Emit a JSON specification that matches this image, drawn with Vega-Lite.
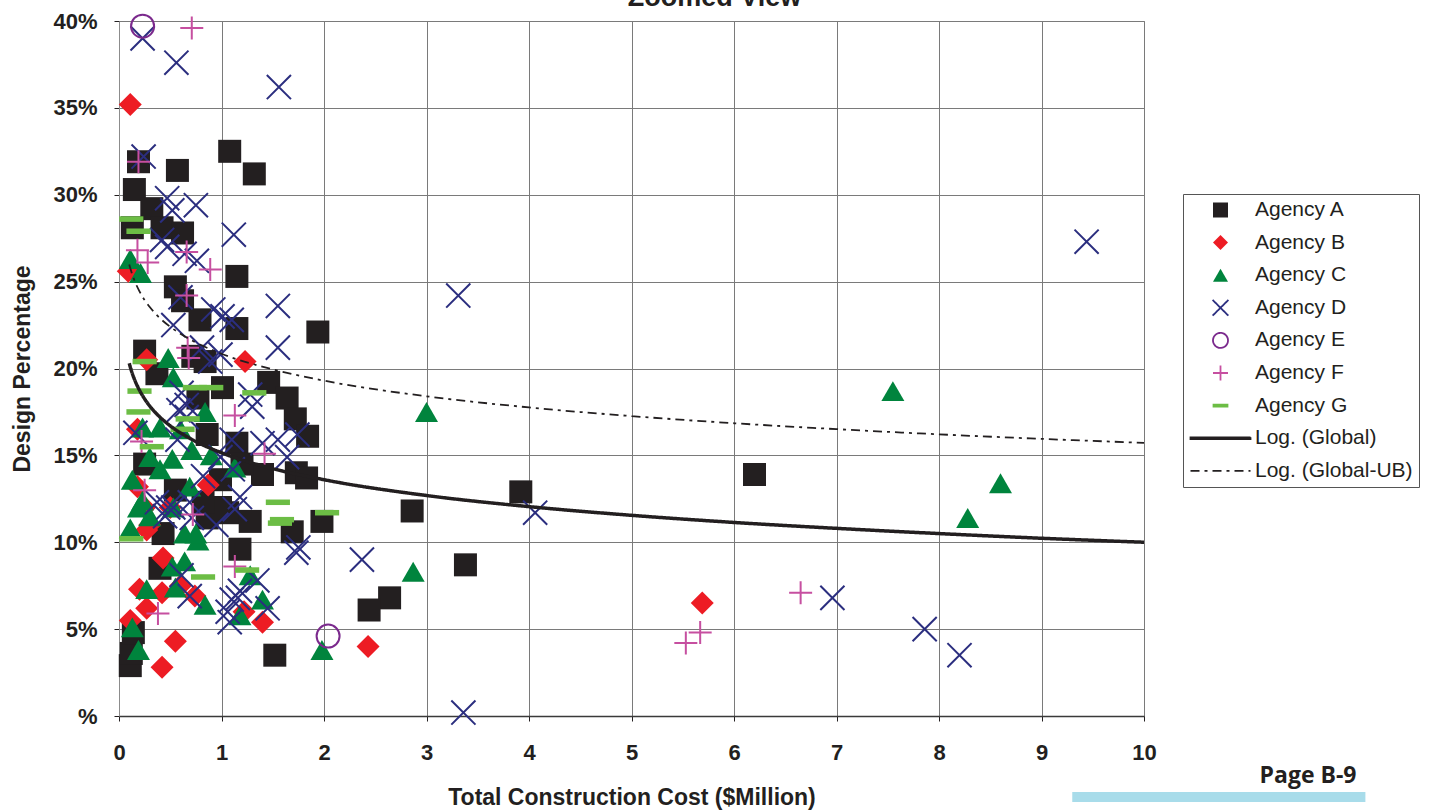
{
  "$schema": "https://vega.github.io/schema/vega-lite/v6.json",
  "autosize": {"type": "none"},
  "width": 1025,
  "height": 695,
  "padding": {"left": 119, "top": 21, "right": 285, "bottom": 94},
  "background": "white",
  "title": {"text": "Zoomed View", "font": "Liberation Sans", "fontSize": 27, "fontWeight": "bold", "color": "#231f20", "anchor": "middle", "dx": 83, "offset": -2},
  "config": {
    "view": {"stroke": "#8c8c8c", "strokeWidth": 1},
    "axis": {
      "labelFont": "Liberation Sans", "labelFontWeight": "bold", "labelFontSize": 22, "labelColor": "#231f20",
      "titleFont": "Liberation Sans", "titleFontWeight": "bold", "titleFontSize": 23, "titleColor": "#231f20",
      "tickSize": 5, "tickColor": "#231f20", "gridColor": "#7a7a7a", "gridWidth": 1, "labelFlush": false, "labelOverlap": false
    }
  },
  "datasets": {
    "points": [
      {"series": "Agency A", "cost": 0.11, "pct": 2.9}, {"series": "Agency A", "cost": 0.12, "pct": 3.6}, {"series": "Agency A", "cost": 0.14, "pct": 4.8},
      {"series": "Agency A", "cost": 0.19, "pct": 31.9}, {"series": "Agency A", "cost": 0.57, "pct": 31.4}, {"series": "Agency A", "cost": 0.15, "pct": 30.3},
      {"series": "Agency A", "cost": 0.32, "pct": 29.2}, {"series": "Agency A", "cost": 0.13, "pct": 28.1}, {"series": "Agency A", "cost": 0.42, "pct": 28.1},
      {"series": "Agency A", "cost": 0.62, "pct": 27.8}, {"series": "Agency A", "cost": 1.08, "pct": 32.5}, {"series": "Agency A", "cost": 1.32, "pct": 31.2},
      {"series": "Agency A", "cost": 1.15, "pct": 25.3}, {"series": "Agency A", "cost": 0.55, "pct": 24.7}, {"series": "Agency A", "cost": 0.62, "pct": 23.9},
      {"series": "Agency A", "cost": 0.79, "pct": 22.8}, {"series": "Agency A", "cost": 1.15, "pct": 22.3}, {"series": "Agency A", "cost": 1.94, "pct": 22.1},
      {"series": "Agency A", "cost": 0.25, "pct": 21.0}, {"series": "Agency A", "cost": 0.37, "pct": 19.7}, {"series": "Agency A", "cost": 0.72, "pct": 20.7},
      {"series": "Agency A", "cost": 0.84, "pct": 20.4}, {"series": "Agency A", "cost": 1.01, "pct": 18.9}, {"series": "Agency A", "cost": 1.46, "pct": 19.2},
      {"series": "Agency A", "cost": 1.64, "pct": 18.3}, {"series": "Agency A", "cost": 1.72, "pct": 17.1}, {"series": "Agency A", "cost": 1.84, "pct": 16.1},
      {"series": "Agency A", "cost": 1.73, "pct": 14.0}, {"series": "Agency A", "cost": 1.83, "pct": 13.7}, {"series": "Agency A", "cost": 1.40, "pct": 13.9},
      {"series": "Agency A", "cost": 1.15, "pct": 15.7}, {"series": "Agency A", "cost": 1.06, "pct": 11.7}, {"series": "Agency A", "cost": 1.28, "pct": 11.2},
      {"series": "Agency A", "cost": 1.69, "pct": 10.6}, {"series": "Agency A", "cost": 1.98, "pct": 11.2}, {"series": "Agency A", "cost": 1.18, "pct": 9.6},
      {"series": "Agency A", "cost": 1.52, "pct": 3.5}, {"series": "Agency A", "cost": 0.40, "pct": 8.5}, {"series": "Agency A", "cost": 0.43, "pct": 10.5},
      {"series": "Agency A", "cost": 0.86, "pct": 11.4}, {"series": "Agency A", "cost": 0.99, "pct": 12.0}, {"series": "Agency A", "cost": 0.25, "pct": 14.5},
      {"series": "Agency A", "cost": 0.77, "pct": 18.3}, {"series": "Agency A", "cost": 0.86, "pct": 16.2}, {"series": "Agency A", "cost": 0.99, "pct": 13.6},
      {"series": "Agency A", "cost": 0.82, "pct": 12.3}, {"series": "Agency A", "cost": 0.55, "pct": 13.0}, {"series": "Agency A", "cost": 1.2, "pct": 14.5},
      {"series": "Agency A", "cost": 3.92, "pct": 12.9}, {"series": "Agency A", "cost": 2.86, "pct": 11.8}, {"series": "Agency A", "cost": 3.38, "pct": 8.7},
      {"series": "Agency A", "cost": 2.64, "pct": 6.8}, {"series": "Agency A", "cost": 2.44, "pct": 6.1}, {"series": "Agency A", "cost": 6.2, "pct": 13.9},

      {"series": "Agency B", "cost": 0.11, "pct": 35.2}, {"series": "Agency B", "cost": 1.23, "pct": 20.4}, {"series": "Agency B", "cost": 0.09, "pct": 25.6},
      {"series": "Agency B", "cost": 0.27, "pct": 20.5}, {"series": "Agency B", "cost": 0.18, "pct": 16.5}, {"series": "Agency B", "cost": 0.87, "pct": 13.3},
      {"series": "Agency B", "cost": 0.18, "pct": 13.2}, {"series": "Agency B", "cost": 0.27, "pct": 10.7}, {"series": "Agency B", "cost": 0.43, "pct": 9.1},
      {"series": "Agency B", "cost": 0.2, "pct": 7.3}, {"series": "Agency B", "cost": 0.42, "pct": 7.1}, {"series": "Agency B", "cost": 0.27, "pct": 6.2},
      {"series": "Agency B", "cost": 0.11, "pct": 5.5}, {"series": "Agency B", "cost": 0.55, "pct": 4.3}, {"series": "Agency B", "cost": 0.42, "pct": 2.8},
      {"series": "Agency B", "cost": 0.74, "pct": 6.9}, {"series": "Agency B", "cost": 1.40, "pct": 5.4}, {"series": "Agency B", "cost": 2.43, "pct": 4.0},
      {"series": "Agency B", "cost": 5.69, "pct": 6.5}, {"series": "Agency B", "cost": 0.25, "pct": 12.0}, {"series": "Agency B", "cost": 0.5, "pct": 12.0},
      {"series": "Agency B", "cost": 0.3, "pct": 11.0}, {"series": "Agency B", "cost": 0.6, "pct": 7.5}, {"series": "Agency B", "cost": 1.22, "pct": 6.0},

      {"series": "Agency C", "cost": 0.11, "pct": 26.3}, {"series": "Agency C", "cost": 0.21, "pct": 25.5}, {"series": "Agency C", "cost": 0.48, "pct": 20.6},
      {"series": "Agency C", "cost": 3.0, "pct": 17.5}, {"series": "Agency C", "cost": 7.55, "pct": 18.7}, {"series": "Agency C", "cost": 8.6, "pct": 13.4},
      {"series": "Agency C", "cost": 8.28, "pct": 11.4}, {"series": "Agency C", "cost": 2.87, "pct": 8.3}, {"series": "Agency C", "cost": 1.98, "pct": 3.8},
      {"series": "Agency C", "cost": 0.53, "pct": 19.5}, {"series": "Agency C", "cost": 0.84, "pct": 17.5}, {"series": "Agency C", "cost": 0.23, "pct": 16.6},
      {"series": "Agency C", "cost": 0.4, "pct": 16.6}, {"series": "Agency C", "cost": 0.3, "pct": 14.9}, {"series": "Agency C", "cost": 0.52, "pct": 14.8},
      {"series": "Agency C", "cost": 0.71, "pct": 15.3}, {"series": "Agency C", "cost": 0.13, "pct": 13.6}, {"series": "Agency C", "cost": 0.4, "pct": 14.2},
      {"series": "Agency C", "cost": 0.23, "pct": 12.4}, {"series": "Agency C", "cost": 0.69, "pct": 13.2}, {"series": "Agency C", "cost": 0.53, "pct": 12.0},
      {"series": "Agency C", "cost": 0.19, "pct": 12.0}, {"series": "Agency C", "cost": 0.11, "pct": 10.8}, {"series": "Agency C", "cost": 0.3, "pct": 11.5},
      {"series": "Agency C", "cost": 0.64, "pct": 10.5}, {"series": "Agency C", "cost": 0.77, "pct": 10.1}, {"series": "Agency C", "cost": 0.52, "pct": 8.6},
      {"series": "Agency C", "cost": 0.64, "pct": 8.9}, {"series": "Agency C", "cost": 0.27, "pct": 7.3}, {"series": "Agency C", "cost": 0.55, "pct": 7.4},
      {"series": "Agency C", "cost": 0.84, "pct": 6.4}, {"series": "Agency C", "cost": 0.13, "pct": 5.1}, {"series": "Agency C", "cost": 0.19, "pct": 3.8},
      {"series": "Agency C", "cost": 1.28, "pct": 8.1}, {"series": "Agency C", "cost": 1.4, "pct": 6.7}, {"series": "Agency C", "cost": 1.18, "pct": 5.8},
      {"series": "Agency C", "cost": 1.13, "pct": 14.3}, {"series": "Agency C", "cost": 0.75, "pct": 10.5}, {"series": "Agency C", "cost": 0.9, "pct": 15.0},
      {"series": "Agency C", "cost": 0.6, "pct": 16.5},

      {"series": "Agency D", "cost": 0.23, "pct": 39.0}, {"series": "Agency D", "cost": 0.56, "pct": 37.6}, {"series": "Agency D", "cost": 1.56, "pct": 36.2},
      {"series": "Agency D", "cost": 3.31, "pct": 24.2}, {"series": "Agency D", "cost": 9.44, "pct": 27.3}, {"series": "Agency D", "cost": 0.24, "pct": 32.2},
      {"series": "Agency D", "cost": 2.37, "pct": 9.0}, {"series": "Agency D", "cost": 3.36, "pct": 0.2}, {"series": "Agency D", "cost": 4.06, "pct": 11.7},
      {"series": "Agency D", "cost": 6.96, "pct": 6.8}, {"series": "Agency D", "cost": 7.86, "pct": 5.0}, {"series": "Agency D", "cost": 8.2, "pct": 3.5},
      {"series": "Agency D", "cost": 1.55, "pct": 23.6}, {"series": "Agency D", "cost": 1.55, "pct": 21.2}, {"series": "Agency D", "cost": 1.12, "pct": 27.7},
      {"series": "Agency D", "cost": 0.75, "pct": 29.4}, {"series": "Agency D", "cost": 0.47, "pct": 29.8}, {"series": "Agency D", "cost": 0.52, "pct": 29.1},
      {"series": "Agency D", "cost": 0.42, "pct": 27.4}, {"series": "Agency D", "cost": 0.47, "pct": 27.0}, {"series": "Agency D", "cost": 0.64, "pct": 26.6},
      {"series": "Agency D", "cost": 0.76, "pct": 26.2}, {"series": "Agency D", "cost": 0.6, "pct": 24.1}, {"series": "Agency D", "cost": 0.53, "pct": 22.5},
      {"series": "Agency D", "cost": 0.92, "pct": 23.4}, {"series": "Agency D", "cost": 1.01, "pct": 23.0}, {"series": "Agency D", "cost": 1.1, "pct": 22.8},
      {"series": "Agency D", "cost": 1.28, "pct": 18.5}, {"series": "Agency D", "cost": 1.3, "pct": 17.8}, {"series": "Agency D", "cost": 1.55, "pct": 15.9},
      {"series": "Agency D", "cost": 1.40, "pct": 15.7}, {"series": "Agency D", "cost": 1.74, "pct": 16.2}, {"series": "Agency D", "cost": 1.64, "pct": 14.9},
      {"series": "Agency D", "cost": 1.1, "pct": 15.9}, {"series": "Agency D", "cost": 1.18, "pct": 12.6}, {"series": "Agency D", "cost": 1.75, "pct": 9.7},
      {"series": "Agency D", "cost": 1.73, "pct": 9.4}, {"series": "Agency D", "cost": 1.35, "pct": 7.8}, {"series": "Agency D", "cost": 1.18, "pct": 7.2},
      {"series": "Agency D", "cost": 1.16, "pct": 6.8}, {"series": "Agency D", "cost": 1.45, "pct": 6.2}, {"series": "Agency D", "cost": 1.08, "pct": 5.4},
      {"series": "Agency D", "cost": 1.13, "pct": 11.9}, {"series": "Agency D", "cost": 0.37, "pct": 12.3}, {"series": "Agency D", "cost": 0.53, "pct": 12.0},
      {"series": "Agency D", "cost": 0.71, "pct": 11.4}, {"series": "Agency D", "cost": 0.61, "pct": 8.1}, {"series": "Agency D", "cost": 0.69, "pct": 6.9},
      {"series": "Agency D", "cost": 1.06, "pct": 6.0}, {"series": "Agency D", "cost": 1.1, "pct": 6.7}, {"series": "Agency D", "cost": 0.61, "pct": 18.6},
      {"series": "Agency D", "cost": 0.58, "pct": 17.6}, {"series": "Agency D", "cost": 0.66, "pct": 17.9}, {"series": "Agency D", "cost": 0.16, "pct": 16.3},
      {"series": "Agency D", "cost": 0.57, "pct": 15.9}, {"series": "Agency D", "cost": 0.66, "pct": 17.2}, {"series": "Agency D", "cost": 0.81, "pct": 21.2},
      {"series": "Agency D", "cost": 0.89, "pct": 20.4}, {"series": "Agency D", "cost": 0.99, "pct": 20.8}, {"series": "Agency D", "cost": 0.99, "pct": 14.9},
      {"series": "Agency D", "cost": 0.82, "pct": 13.8}, {"series": "Agency D", "cost": 0.48, "pct": 12.0}, {"series": "Agency D", "cost": 0.69, "pct": 12.3},
      {"series": "Agency D", "cost": 1.11, "pct": 14.2}, {"series": "Agency D", "cost": 0.45, "pct": 11.5}, {"series": "Agency D", "cost": 0.95, "pct": 11.0},

      {"series": "Agency E", "cost": 0.23, "pct": 39.7}, {"series": "Agency E", "cost": 2.04, "pct": 4.6},

      {"series": "Agency F", "cost": 0.71, "pct": 39.6}, {"series": "Agency F", "cost": 0.19, "pct": 31.9}, {"series": "Agency F", "cost": 0.18, "pct": 26.8},
      {"series": "Agency F", "cost": 0.28, "pct": 26.1}, {"series": "Agency F", "cost": 0.66, "pct": 26.7}, {"series": "Agency F", "cost": 0.89, "pct": 25.7},
      {"series": "Agency F", "cost": 0.66, "pct": 24.2}, {"series": "Agency F", "cost": 0.67, "pct": 21.2}, {"series": "Agency F", "cost": 0.68, "pct": 20.6},
      {"series": "Agency F", "cost": 0.22, "pct": 15.8}, {"series": "Agency F", "cost": 0.25, "pct": 13.0}, {"series": "Agency F", "cost": 0.72, "pct": 11.6},
      {"series": "Agency F", "cost": 1.13, "pct": 17.3}, {"series": "Agency F", "cost": 1.42, "pct": 15.1}, {"series": "Agency F", "cost": 1.13, "pct": 8.6},
      {"series": "Agency F", "cost": 0.38, "pct": 5.9}, {"series": "Agency F", "cost": 6.65, "pct": 7.1}, {"series": "Agency F", "cost": 5.67, "pct": 4.8},
      {"series": "Agency F", "cost": 5.53, "pct": 4.2},

      {"series": "Agency G", "cost": 0.12, "pct": 28.6}, {"series": "Agency G", "cost": 0.19, "pct": 27.9}, {"series": "Agency G", "cost": 0.25, "pct": 20.4},
      {"series": "Agency G", "cost": 0.2, "pct": 18.7}, {"series": "Agency G", "cost": 0.19, "pct": 17.5}, {"series": "Agency G", "cost": 0.74, "pct": 18.9},
      {"series": "Agency G", "cost": 0.67, "pct": 17.1}, {"series": "Agency G", "cost": 0.62, "pct": 16.5}, {"series": "Agency G", "cost": 0.32, "pct": 15.5},
      {"series": "Agency G", "cost": 0.12, "pct": 10.2}, {"series": "Agency G", "cost": 0.82, "pct": 8.0}, {"series": "Agency G", "cost": 1.32, "pct": 18.6},
      {"series": "Agency G", "cost": 1.55, "pct": 12.3}, {"series": "Agency G", "cost": 1.59, "pct": 11.3}, {"series": "Agency G", "cost": 1.57, "pct": 11.1},
      {"series": "Agency G", "cost": 2.03, "pct": 11.7}, {"series": "Agency G", "cost": 1.25, "pct": 8.4}, {"series": "Agency G", "cost": 0.9, "pct": 18.9}
    ],
    "trend": [
      {"series": "Log. (Global)", "cost": 0.1, "pct": 20.30}, {"series": "Log. (Global)", "cost": 0.12, "pct": 19.89},
      {"series": "Log. (Global)", "cost": 0.15, "pct": 19.39}, {"series": "Log. (Global)", "cost": 0.2, "pct": 18.75},
      {"series": "Log. (Global)", "cost": 0.25, "pct": 18.25}, {"series": "Log. (Global)", "cost": 0.3, "pct": 17.84},
      {"series": "Log. (Global)", "cost": 0.4, "pct": 17.20}, {"series": "Log. (Global)", "cost": 0.5, "pct": 16.70},
      {"series": "Log. (Global)", "cost": 0.7, "pct": 15.95}, {"series": "Log. (Global)", "cost": 1, "pct": 15.15},
      {"series": "Log. (Global)", "cost": 1.5, "pct": 14.24}, {"series": "Log. (Global)", "cost": 2, "pct": 13.60},
      {"series": "Log. (Global)", "cost": 3, "pct": 12.69}, {"series": "Log. (Global)", "cost": 4, "pct": 12.05},
      {"series": "Log. (Global)", "cost": 5, "pct": 11.55}, {"series": "Log. (Global)", "cost": 6, "pct": 11.14},
      {"series": "Log. (Global)", "cost": 7, "pct": 10.80}, {"series": "Log. (Global)", "cost": 8, "pct": 10.50},
      {"series": "Log. (Global)", "cost": 9, "pct": 10.23}, {"series": "Log. (Global)", "cost": 10, "pct": 10.00},
      {"series": "Log. (Global-UB)", "cost": 0.1, "pct": 25.99}, {"series": "Log. (Global-UB)", "cost": 0.12, "pct": 25.58},
      {"series": "Log. (Global-UB)", "cost": 0.15, "pct": 25.08}, {"series": "Log. (Global-UB)", "cost": 0.2, "pct": 24.44},
      {"series": "Log. (Global-UB)", "cost": 0.25, "pct": 23.94}, {"series": "Log. (Global-UB)", "cost": 0.3, "pct": 23.54},
      {"series": "Log. (Global-UB)", "cost": 0.4, "pct": 22.89}, {"series": "Log. (Global-UB)", "cost": 0.5, "pct": 22.40},
      {"series": "Log. (Global-UB)", "cost": 0.7, "pct": 21.65}, {"series": "Log. (Global-UB)", "cost": 1, "pct": 20.85},
      {"series": "Log. (Global-UB)", "cost": 1.5, "pct": 19.95}, {"series": "Log. (Global-UB)", "cost": 2, "pct": 19.30},
      {"series": "Log. (Global-UB)", "cost": 3, "pct": 18.40}, {"series": "Log. (Global-UB)", "cost": 4, "pct": 17.76},
      {"series": "Log. (Global-UB)", "cost": 5, "pct": 17.26}, {"series": "Log. (Global-UB)", "cost": 6, "pct": 16.85},
      {"series": "Log. (Global-UB)", "cost": 7, "pct": 16.51}, {"series": "Log. (Global-UB)", "cost": 8, "pct": 16.21},
      {"series": "Log. (Global-UB)", "cost": 9, "pct": 15.95}, {"series": "Log. (Global-UB)", "cost": 10, "pct": 15.72}
    ]
  },
  "layer": [
    {
      "data": {"name": "points"},
      "mark": {"type": "point", "size": 529, "strokeWidth": 2, "opacity": 1, "clip": false},
      "encoding": {
        "x": {"field": "cost", "type": "quantitative",
          "scale": {"domain": [0, 10], "nice": false, "zero": false},
          "axis": {"values": [0,1,2,3,4,5,6,7,8,9,10], "format": "d", "title": "Total Construction Cost ($Million)", "labelPadding": 21, "titlePadding": 23, "domainColor": "#3a3a3a", "domainWidth": 1.5}},
        "y": {"field": "pct", "type": "quantitative",
          "scale": {"domain": [0, 40], "nice": false, "zero": false},
          "axis": {"values": [0,5,10,15,20,25,30,35,40], "title": "Design Percentage", "labelPadding": 17, "titlePadding": 18, "domainColor": "#8c8c8c",
            "labelExpr": "datum.value == 0 ? '%' : datum.value + '%'"}},
        "shape": {"field": "series", "type": "nominal",
          "scale": {
            "domain": ["Agency A","Agency B","Agency C","Agency D","Agency E","Agency F","Agency G","Log. (Global)","Log. (Global-UB)"],
            "range": ["square","diamond","triangle-up","M-1.05,-1.05L1.05,1.05M-1.05,1.05L1.05,-1.05","M1,0A1,1 0 1,1 -1,0A1,1 0 1,1 1,0Z","M-1,0L1,0M0,-1L0,1","M-1.05,-0.24L1.05,-0.24L1.05,0.24L-1.05,0.24Z","M-4,-0.12L4,-0.12L4,0.12L-4,0.12Z","M-4,0L4,0"]},
          "legend": {
            "title": null, "orient": "none", "legendX": 1064, "legendY": 173,
            "padding": 6, "strokeColor": "#555555", "fillColor": "white",
            "labelFont": "Liberation Sans", "labelFontSize": 21, "labelColor": "#231f20", "labelLimit": 400,
            "symbolSize": 225, "symbolStrokeWidth": 1.8, "clipHeight": 20, "rowPadding": 11.6, "labelOffset": 24, "symbolOffset": 21
          }},
        "fill": {"field": "series", "type": "nominal",
          "scale": {
            "domain": ["Agency A","Agency B","Agency C","Agency D","Agency E","Agency F","Agency G","Log. (Global)","Log. (Global-UB)"],
            "range": ["#231f20","#ed1c24","#00843d","transparent","transparent","transparent","#6cbd45","#231f20","transparent"]},
          "legend": null},
        "stroke": {"field": "series", "type": "nominal",
          "scale": {
            "domain": ["Agency A","Agency B","Agency C","Agency D","Agency E","Agency F","Agency G","Log. (Global)","Log. (Global-UB)"],
            "range": ["transparent","transparent","transparent","#2b2e7f","#7b2a8d","#c64fa0","transparent","#231f20","#231f20"]},
          "legend": null}
      }
    },
    {
      "data": {"name": "trend"},
      "transform": [{"filter": "datum.series == 'Log. (Global)'"}],
      "mark": {"type": "line", "stroke": "#231f20", "strokeWidth": 3.5, "interpolate": "monotone"},
      "encoding": {
        "x": {"field": "cost", "type": "quantitative"},
        "y": {"field": "pct", "type": "quantitative"},
        "strokeDash": {"field": "series", "type": "nominal",
          "scale": {
            "domain": ["Agency A","Agency B","Agency C","Agency D","Agency E","Agency F","Agency G","Log. (Global)","Log. (Global-UB)"],
            "range": [[1,0],[1,0],[1,0],[1,0],[1,0],[1,0],[1,0],[1,0],[9,5,3,5]]}}
      }
    },
    {
      "data": {"name": "trend"},
      "transform": [{"filter": "datum.series == 'Log. (Global-UB)'"}],
      "mark": {"type": "line", "stroke": "#231f20", "strokeWidth": 1.8, "interpolate": "monotone"},
      "encoding": {
        "x": {"field": "cost", "type": "quantitative"},
        "y": {"field": "pct", "type": "quantitative"},
        "strokeDash": {"field": "series", "type": "nominal"}
      }
    },
    {
      "data": {"values": [{"label": "Page  B-9"}]},
      "mark": {"type": "text", "font": "Open Sans", "fontWeight": "bold", "fontSize": 23, "color": "#231f20", "align": "center", "baseline": "alphabetic", "clip": false},
      "encoding": {
        "x": {"datum": 11.6, "type": "quantitative"},
        "y": {"datum": -3.86, "type": "quantitative"},
        "text": {"field": "label"}
      }
    },
    {
      "data": {"values": [{"label": "bar"}]},
      "mark": {"type": "rect", "color": "#a8dcea", "clip": false},
      "encoding": {
        "x": {"datum": 9.3, "type": "quantitative"},
        "x2": {"datum": 12.16},
        "y": {"datum": -4.37, "type": "quantitative"},
        "y2": {"datum": -4.95}
      }
    }
  ]
}
